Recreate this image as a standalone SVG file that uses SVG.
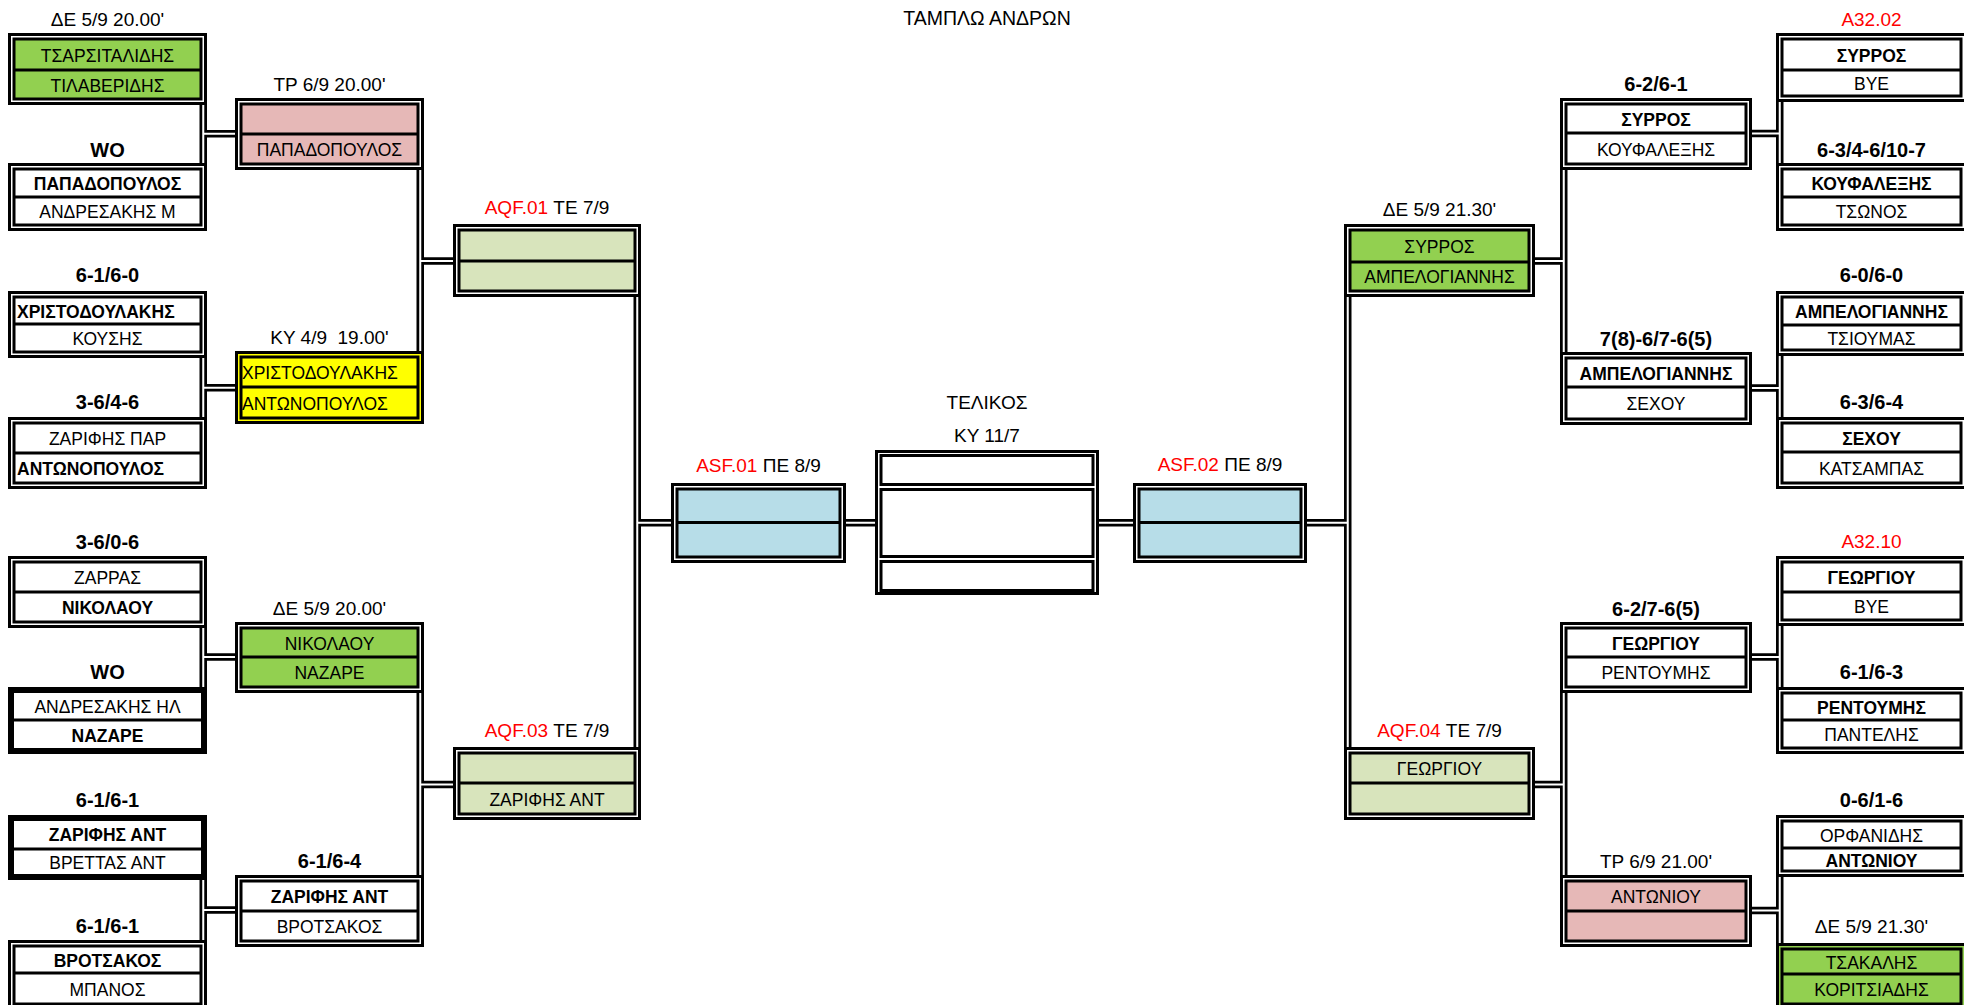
<svg xmlns="http://www.w3.org/2000/svg" width="1964" height="1005" viewBox="0 0 1964 1005">
<style>
.o{fill:#fff;stroke:#000;stroke-width:3}
.i{stroke:#000;stroke-width:3}
.k{fill:#fff;stroke:#000;stroke-width:6}
.d{stroke:#000;stroke-width:3}
.cb{fill:none;stroke:#000;stroke-width:7.5}
.cw{fill:none;stroke:#fff;stroke-width:2}
text{font-family:"Liberation Sans",Arial,sans-serif;fill:#000}
.n{font-size:17.5px;text-anchor:middle}
.nb{font-size:17.5px;font-weight:bold;text-anchor:middle}
.nl{font-size:17.5px;text-anchor:start}
.nbl{font-size:17.5px;font-weight:bold;text-anchor:start}
.lb{font-size:19px;text-anchor:middle;white-space:pre}
.sc{font-size:20px;font-weight:bold;text-anchor:middle}
.r{fill:#f00}
.g{fill:#92d050}.p{fill:#e6b8b7}.y{fill:#ff0}.q{fill:#d8e4bc}.b{fill:#b7dde8}.w{fill:#fff}
</style>
<rect width="1964" height="1005" fill="#fff"/>
<text class="lb" x="987" y="25" style="font-size:19.5px">ΤΑΜΠΛΩ ΑΝΔΡΩΝ</text>

<g id="connectors">
<path class="cb" d="M203.25 102V166M203.25 133.8H238M203.25 355V420M203.25 387.8H238M203.25 625V690M203.25 657H238M203.25 877V943M203.25 910H238M420.25 167V354M420.25 261H456M420.25 690V878M420.25 784.5H456M637.25 294V750M637.25 522.75H674M843 522.75H878M1096 522.75H1136M1347.75 294V750M1347.75 522.75H1304M1563.75 167V355M1563.75 261H1532M1563.75 690V878M1563.75 784.5H1532M1779.75 99V166M1779.75 133.5H1749M1779.75 353V420M1779.75 388H1749M1779.75 623V690M1779.75 657H1749M1779.75 874V946M1779.75 910.5H1749"/>
<path class="cw" d="M203.25 102V166M203.25 133.8H238M203.25 355V420M203.25 387.8H238M203.25 625V690M203.25 657H238M203.25 877V943M203.25 910H238M420.25 167V354M420.25 261H456M420.25 690V878M420.25 784.5H456M637.25 294V750M637.25 522.75H674M843 522.75H878M1096 522.75H1136M1347.75 294V750M1347.75 522.75H1304M1563.75 167V355M1563.75 261H1532M1563.75 690V878M1563.75 784.5H1532M1779.75 99V166M1779.75 133.5H1749M1779.75 353V420M1779.75 388H1749M1779.75 623V690M1779.75 657H1749M1779.75 874V946M1779.75 910.5H1749"/>
</g>

<!-- Left R32 -->
<g id="L32-1">
<text class="lb" x="107.5" y="26">ΔΕ 5/9 20.00'</text>
<rect class="o" x="9.5" y="34.5" width="196" height="69"/>
<rect class="i g" x="14" y="39" width="187" height="60"/>
<line class="d" x1="14" x2="201" y1="70" y2="70"/>
<text class="n" x="107.5" y="61.5">ΤΣΑΡΣΙΤΑΛΙΔΗΣ</text>
<text class="n" x="107.5" y="91.5">ΤΙΛΑΒΕΡΙΔΗΣ</text>
</g>
<g id="L32-2">
<text class="sc" x="107.5" y="157">WO</text>
<rect class="o" x="9.5" y="164.5" width="196" height="65"/>
<rect class="i w" x="14" y="169" width="187" height="56"/>
<line class="d" x1="14" x2="201" y1="197" y2="197"/>
<text class="nb" x="107.5" y="190">ΠΑΠΑΔΟΠΟΥΛΟΣ</text>
<text class="n" x="107.5" y="218">ΑΝΔΡΕΣΑΚΗΣ Μ</text>
</g>
<g id="L32-3">
<text class="sc" x="107.5" y="282">6-1/6-0</text>
<rect class="o" x="9.5" y="292.5" width="196" height="64"/>
<rect class="i w" x="14" y="297" width="187" height="55"/>
<line class="d" x1="14" x2="201" y1="324" y2="324"/>
<text class="nbl" x="17" y="317.5">ΧΡΙΣΤΟΔΟΥΛΑΚΗΣ</text>
<text class="n" x="107.5" y="345">ΚΟΥΣΗΣ</text>
</g>
<g id="L32-4">
<text class="sc" x="107.5" y="409">3-6/4-6</text>
<rect class="o" x="9.5" y="418.5" width="196" height="69"/>
<rect class="i w" x="14" y="423" width="187" height="60"/>
<line class="d" x1="14" x2="201" y1="453" y2="453"/>
<text class="n" x="107.5" y="445">ΖΑΡΙΦΗΣ ΠΑΡ</text>
<text class="nbl" x="17" y="475">ΑΝΤΩΝΟΠΟΥΛΟΣ</text>
</g>
<g id="L32-5">
<text class="sc" x="107.5" y="549">3-6/0-6</text>
<rect class="o" x="9.5" y="557.5" width="196" height="69"/>
<rect class="i w" x="14" y="562" width="187" height="60"/>
<line class="d" x1="14" x2="201" y1="592" y2="592"/>
<text class="n" x="107.5" y="584">ΖΑΡΡΑΣ</text>
<text class="nb" x="107.5" y="614">ΝΙΚΟΛΑΟΥ</text>
</g>
<g id="L32-6">
<text class="sc" x="107.5" y="679">WO</text>
<rect class="k" x="11" y="690" width="193" height="61"/>
<line class="d" x1="14" x2="201" y1="720" y2="720"/>
<text class="n" x="107.5" y="713">ΑΝΔΡΕΣΑΚΗΣ ΗΛ</text>
<text class="nb" x="107.5" y="741.5">ΝΑΖΑΡΕ</text>
</g>
<g id="L32-7">
<text class="sc" x="107.5" y="807">6-1/6-1</text>
<rect class="k" x="11" y="818" width="193" height="59"/>
<line class="d" x1="14" x2="201" y1="849" y2="849"/>
<text class="nb" x="107.5" y="841">ΖΑΡΙΦΗΣ ΑΝΤ</text>
<text class="n" x="107.5" y="869">ΒΡΕΤΤΑΣ ΑΝΤ</text>
</g>
<g id="L32-8">
<text class="sc" x="107.5" y="933">6-1/6-1</text>
<rect class="o" x="9.5" y="941.5" width="196" height="67"/>
<rect class="i w" x="14" y="946" width="187" height="58"/>
<line class="d" x1="14" x2="201" y1="973" y2="973"/>
<text class="nb" x="107.5" y="966.5">ΒΡΟΤΣΑΚΟΣ</text>
<text class="n" x="107.5" y="995.5">ΜΠΑΝΟΣ</text>
</g>

<!-- Left R16 -->
<g id="L16-1">
<text class="lb" x="329.5" y="91">ΤΡ 6/9 20.00'</text>
<rect class="o" x="236.5" y="99.5" width="186" height="69"/>
<rect class="i p" x="241" y="104" width="177" height="60"/>
<line class="d" x1="241" x2="418" y1="134" y2="134"/>
<text class="n" x="329.5" y="156">ΠΑΠΑΔΟΠΟΥΛΟΣ</text>
</g>
<g id="L16-2">
<text class="lb" x="329.5" y="344">ΚΥ 4/9  19.00'</text>
<rect class="o y" x="236.5" y="352.5" width="186" height="70"/>
<rect class="i y" x="241" y="357" width="177" height="61"/>
<line class="d" x1="241" x2="418" y1="387" y2="387"/>
<text class="nl" x="242" y="379">ΧΡΙΣΤΟΔΟΥΛΑΚΗΣ</text>
<text class="nl" x="242" y="409.5">ΑΝΤΩΝΟΠΟΥΛΟΣ</text>
</g>
<g id="L16-3">
<text class="lb" x="329.5" y="615">ΔΕ 5/9 20.00'</text>
<rect class="o" x="236.5" y="623.5" width="186" height="68"/>
<rect class="i g" x="241" y="628" width="177" height="59"/>
<line class="d" x1="241" x2="418" y1="657" y2="657"/>
<text class="n" x="329.5" y="649.5">ΝΙΚΟΛΑΟΥ</text>
<text class="n" x="329.5" y="679">ΝΑΖΑΡΕ</text>
</g>
<g id="L16-4">
<text class="sc" x="329.5" y="868">6-1/6-4</text>
<rect class="o" x="236.5" y="876.5" width="186" height="69"/>
<rect class="i w" x="241" y="881" width="177" height="60"/>
<line class="d" x1="241" x2="418" y1="911" y2="911"/>
<text class="nb" x="329.5" y="903">ΖΑΡΙΦΗΣ ΑΝΤ</text>
<text class="n" x="329.5" y="933">ΒΡΟΤΣΑΚΟΣ</text>
</g>

<!-- Left QF -->
<g id="AQF01">
<text class="lb" x="547" y="214"><tspan class="r">AQF.01</tspan> ΤΕ 7/9</text>
<rect class="o" x="454.5" y="225.5" width="185" height="70"/>
<rect class="i q" x="459" y="230" width="176" height="61"/>
<line class="d" x1="459" x2="635" y1="261" y2="261"/>
</g>
<g id="AQF03">
<text class="lb" x="547" y="737"><tspan class="r">AQF.03</tspan> ΤΕ 7/9</text>
<rect class="o" x="454.5" y="748.5" width="185" height="70"/>
<rect class="i q" x="459" y="753" width="176" height="61"/>
<line class="d" x1="459" x2="635" y1="783" y2="783"/>
<text class="n" x="547" y="805.5">ΖΑΡΙΦΗΣ ΑΝΤ</text>
</g>

<!-- SF -->
<g id="ASF01">
<text class="lb" x="758.5" y="472"><tspan class="r">ASF.01</tspan> ΠΕ 8/9</text>
<rect class="o" x="672.5" y="484.5" width="172" height="77"/>
<rect class="i b" x="677" y="489" width="163" height="68"/>
<line class="d" x1="677" x2="840" y1="522.5" y2="522.5"/>
</g>
<g id="ASF02">
<text class="lb" x="1220" y="471"><tspan class="r">ASF.02</tspan> ΠΕ 8/9</text>
<rect class="o" x="1134.5" y="484.5" width="171" height="77"/>
<rect class="i b" x="1139" y="489" width="162" height="68"/>
<line class="d" x1="1139" x2="1301" y1="522.5" y2="522.5"/>
</g>

<!-- Final -->
<g id="final">
<text class="lb" x="987" y="409">ΤΕΛΙΚΟΣ</text>
<text class="lb" x="987" y="442">ΚΥ 11/7</text>
<rect class="o" x="876.5" y="451.5" width="221" height="142"/>
<rect class="i w" x="881" y="455.5" width="212" height="29"/>
<rect class="i w" x="881" y="489.5" width="212" height="67"/>
<rect class="i w" x="881" y="561.5" width="212" height="29"/>
</g>

<!-- Right QF -->
<g id="AQF02">
<text class="lb" x="1439.5" y="216">ΔΕ 5/9 21.30'</text>
<rect class="o" x="1345.5" y="225.5" width="188" height="70"/>
<rect class="i g" x="1350" y="230" width="179" height="61"/>
<line class="d" x1="1350" x2="1529" y1="262" y2="262"/>
<text class="n" x="1439.5" y="253">ΣΥΡΡΟΣ</text>
<text class="n" x="1439.5" y="283">ΑΜΠΕΛΟΓΙΑΝΝΗΣ</text>
</g>
<g id="AQF04">
<text class="lb" x="1439.5" y="737"><tspan class="r">AQF.04</tspan> ΤΕ 7/9</text>
<rect class="o" x="1345.5" y="748.5" width="188" height="70"/>
<rect class="i q" x="1350" y="753" width="179" height="61"/>
<line class="d" x1="1350" x2="1529" y1="783" y2="783"/>
<text class="n" x="1439.5" y="775">ΓΕΩΡΓΙΟΥ</text>
</g>

<!-- Right R16 -->
<g id="R16-1">
<text class="sc" x="1656" y="91">6-2/6-1</text>
<rect class="o" x="1561.5" y="99.5" width="189" height="69"/>
<rect class="i w" x="1566" y="104" width="180" height="60"/>
<line class="d" x1="1566" x2="1746" y1="133" y2="133"/>
<text class="nb" x="1656" y="125.5">ΣΥΡΡΟΣ</text>
<text class="n" x="1656" y="155.5">ΚΟΥΦΑΛΕΞΗΣ</text>
</g>
<g id="R16-2">
<text class="sc" x="1656" y="346">7(8)-6/7-6(5)</text>
<rect class="o" x="1561.5" y="353.5" width="189" height="70"/>
<rect class="i w" x="1566" y="358" width="180" height="61"/>
<line class="d" x1="1566" x2="1746" y1="387" y2="387"/>
<text class="nb" x="1656" y="379.5">ΑΜΠΕΛΟΓΙΑΝΝΗΣ</text>
<text class="n" x="1656" y="410">ΣΕΧΟΥ</text>
</g>
<g id="R16-3">
<text class="sc" x="1656" y="616">6-2/7-6(5)</text>
<rect class="o" x="1561.5" y="623.5" width="189" height="68"/>
<rect class="i w" x="1566" y="628" width="180" height="59"/>
<line class="d" x1="1566" x2="1746" y1="657" y2="657"/>
<text class="nb" x="1656" y="649.5">ΓΕΩΡΓΙΟΥ</text>
<text class="n" x="1656" y="679">ΡΕΝΤΟΥΜΗΣ</text>
</g>
<g id="R16-4">
<text class="lb" x="1656" y="868">ΤΡ 6/9 21.00'</text>
<rect class="o" x="1561.5" y="876.5" width="189" height="69"/>
<rect class="i p" x="1566" y="881" width="180" height="60"/>
<line class="d" x1="1566" x2="1746" y1="911" y2="911"/>
<text class="n" x="1656" y="903">ΑΝΤΩΝΙΟΥ</text>
</g>

<!-- Right R32 -->
<g id="R32-1">
<text class="lb r" x="1871.5" y="26">A32.02</text>
<rect class="o" x="1777.5" y="34.5" width="188" height="66"/>
<rect class="i w" x="1782" y="39" width="179" height="57"/>
<line class="d" x1="1782" x2="1961" y1="70" y2="70"/>
<text class="nb" x="1871.5" y="61.5">ΣΥΡΡΟΣ</text>
<text class="n" x="1871.5" y="90">ΒΥΕ</text>
</g>
<g id="R32-2">
<text class="sc" x="1871.5" y="157">6-3/4-6/10-7</text>
<rect class="o" x="1777.5" y="164.5" width="188" height="65"/>
<rect class="i w" x="1782" y="169" width="179" height="56"/>
<line class="d" x1="1782" x2="1961" y1="197" y2="197"/>
<text class="nb" x="1871.5" y="190">ΚΟΥΦΑΛΕΞΗΣ</text>
<text class="n" x="1871.5" y="218">ΤΣΩΝΟΣ</text>
</g>
<g id="R32-3">
<text class="sc" x="1871.5" y="282">6-0/6-0</text>
<rect class="o" x="1777.5" y="292.5" width="188" height="62"/>
<rect class="i w" x="1782" y="297" width="179" height="53"/>
<line class="d" x1="1782" x2="1961" y1="325" y2="325"/>
<text class="nb" x="1871.5" y="318">ΑΜΠΕΛΟΓΙΑΝΝΗΣ</text>
<text class="n" x="1871.5" y="344.5">ΤΣΙΟΥΜΑΣ</text>
</g>
<g id="R32-4">
<text class="sc" x="1871.5" y="409">6-3/6-4</text>
<rect class="o" x="1777.5" y="418.5" width="188" height="69"/>
<rect class="i w" x="1782" y="423" width="179" height="60"/>
<line class="d" x1="1782" x2="1961" y1="452" y2="452"/>
<text class="nb" x="1871.5" y="444.5">ΣΕΧΟΥ</text>
<text class="n" x="1871.5" y="474.5">ΚΑΤΣΑΜΠΑΣ</text>
</g>
<g id="R32-5">
<text class="lb r" x="1871.5" y="548">A32.10</text>
<rect class="o" x="1777.5" y="557.5" width="188" height="67"/>
<rect class="i w" x="1782" y="562" width="179" height="58"/>
<line class="d" x1="1782" x2="1961" y1="592" y2="592"/>
<text class="nb" x="1871.5" y="584">ΓΕΩΡΓΙΟΥ</text>
<text class="n" x="1871.5" y="613">ΒΥΕ</text>
</g>
<g id="R32-6">
<text class="sc" x="1871.5" y="679">6-1/6-3</text>
<rect class="o" x="1777.5" y="688.5" width="188" height="64"/>
<rect class="i w" x="1782" y="693" width="179" height="55"/>
<line class="d" x1="1782" x2="1961" y1="720" y2="720"/>
<text class="nb" x="1871.5" y="713.5">ΡΕΝΤΟΥΜΗΣ</text>
<text class="n" x="1871.5" y="741">ΠΑΝΤΕΛΗΣ</text>
</g>
<g id="R32-7">
<text class="sc" x="1871.5" y="807">0-6/1-6</text>
<rect class="o" x="1777.5" y="816.5" width="188" height="59"/>
<rect class="i w" x="1782" y="821" width="179" height="50"/>
<line class="d" x1="1782" x2="1961" y1="848" y2="848"/>
<text class="n" x="1871.5" y="841.5">ΟΡΦΑΝΙΔΗΣ</text>
<text class="nb" x="1871.5" y="866.5">ΑΝΤΩΝΙΟΥ</text>
</g>
<g id="R32-8">
<text class="lb" x="1871.5" y="933">ΔΕ 5/9 21.30'</text>
<rect class="o g" x="1777.5" y="944.5" width="188" height="64"/>
<rect class="i g" x="1782" y="949" width="179" height="55"/>
<line class="d" x1="1782" x2="1961" y1="974" y2="974"/>
<text class="n" x="1871.5" y="968.5">ΤΣΑΚΑΛΗΣ</text>
<text class="n" x="1871.5" y="996">ΚΟΡΙΤΣΙΑΔΗΣ</text>
</g>
</svg>
